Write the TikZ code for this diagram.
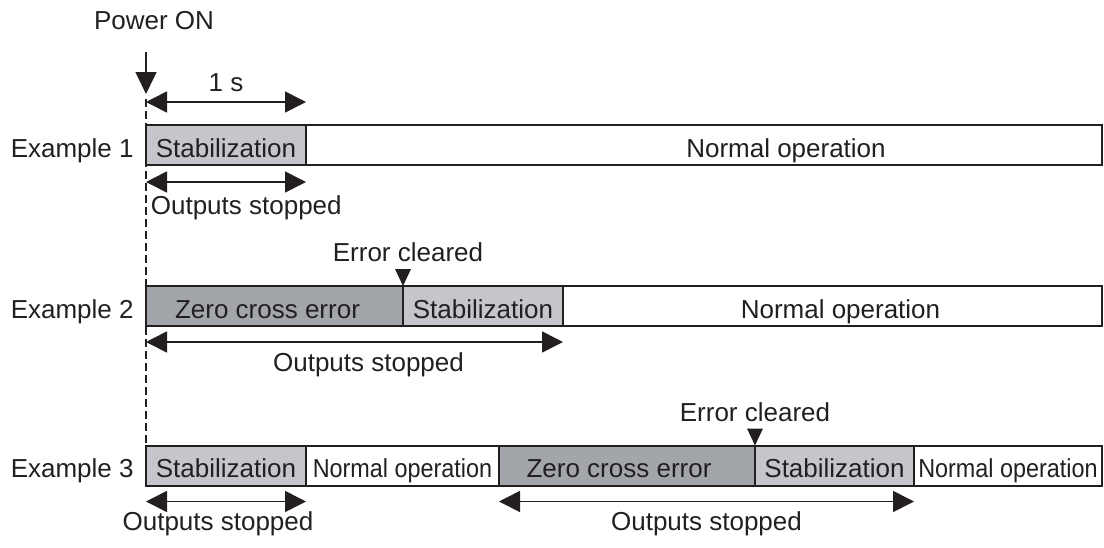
\documentclass[tikz,border=0pt]{standalone}
\usepackage{fontspec}
\setmainfont{Liberation Sans}
\usetikzlibrary{arrows.meta}
\definecolor{ink}{HTML}{231F20}
\definecolor{stabgray}{HTML}{C4C6CB}
\definecolor{errgray}{HTML}{A2A6AA}

\begin{document}
\begin{tikzpicture}[x=0.5pt, y=-0.5pt,
  every node/.style={text=ink, font=\fontsize{13}{15}\selectfont},
  segtext/.style={text height=12pt, text depth=0pt},
  seg/.style={draw=ink, line width=1pt, anchor=west, minimum height=20pt,
    inner sep=0pt, outer sep=0pt, segtext},
  stab/.style={seg, fill=stabgray},
  zerr/.style={seg, fill=errgray},
  norm/.style={seg, fill=white},
  rowlabel/.style={anchor=east, xshift=-6pt, inner sep=0pt, segtext},
  span/.style={draw=ink, line width=0.8pt,
    {Triangle[length=10.5pt,width=10.5pt]}-{Triangle[length=10.5pt,width=10.5pt]}},
  cleared/.style={fill=ink}]
  \useasboundingbox (0,0) rectangle (1104,547);

  % power on
  \node (pwr) at (154,21) {Power ON};
  \coordinate (ontop) at (146,52);
  \coordinate (on) at (146,94);
  \draw[ink, line width=0.8pt, -{Triangle[length=11pt,width=10.5pt]}] (ontop) -- (on);

  % example 1
  \node[stab, minimum width=80pt] (e1s) at (146,145) {Stabilization};
  \node[norm, minimum width=398pt, label={[segtext, xshift=41pt]center:Normal operation}] (e1n) at (e1s.east) {};
  \node[rowlabel] (l1) at (e1s.west) {Example 1};
  \draw[span] ([yshift=11.5pt]e1s.north west) -- ([yshift=11.5pt]e1s.north east)
    node[midway, above=1.5pt] (one) {1 s};
  \draw[span] ([yshift=-8.5pt]e1s.south west) -- ([yshift=-8.5pt]e1s.south east)
    node[pos=0, anchor=north west, xshift=-1.3pt, yshift=-3pt] (o1) {Outputs stopped};

  % example 2
  \node[zerr, minimum width=128.5pt, label={[segtext, xshift=-3.5pt]center:Zero cross error}] (e2z) at (146,306) {};
  \node[stab, minimum width=80pt] (e2s) at (e2z.east) {Stabilization};
  \node[norm, minimum width=269.5pt, label={[segtext, xshift=4pt]center:Normal operation}] (e2n) at (e2s.east) {};
  \node[rowlabel] (l2) at (e2z.west) {Example 2};
  \fill[cleared] (e2z.north east) -- ++(-8,-17) -- ++(16,0) -- cycle;
  \node[above=8.5pt, xshift=2.5pt] (c2) at (e2z.north east) {Error cleared};
  \draw[span] ([yshift=-8pt]e2z.south west) -- ([yshift=-8pt]e2s.south east)
    node[midway, below=1.5pt, xshift=7pt] (o2) {Outputs stopped};

  % example 3
  \node[stab, minimum width=80pt] (e3a) at (146,465.5) {Stabilization};
  \node[norm, minimum width=96.5pt] (e3b) at (e3a.east) {\scalebox{0.9}[1]{Normal operation}};
  \node[zerr, minimum width=128pt, label={[segtext, xshift=-4pt]center:Zero cross error}] (e3c) at (e3b.east) {};
  \node[stab, minimum width=79.5pt] (e3d) at (e3c.east) {Stabilization};
  \node[norm, minimum width=94pt] (e3e) at (e3d.east) {\scalebox{0.9}[1]{Normal operation}};
  \node[rowlabel] (l3) at (e3a.west) {Example 3};
  \fill[cleared] (e3c.north east) -- ++(-8,-17) -- ++(16,0) -- cycle;
  \node[above=8.5pt] (c3) at (e3c.north east) {Error cleared};
  \draw[span] ([yshift=-8pt]e3a.south west) -- ([yshift=-8pt]e3a.south east)
    node[midway, below=1.5pt, xshift=-4pt] (o3) {Outputs stopped};
  \draw[span] ([yshift=-8pt]e3c.south west) -- ([yshift=-8pt]e3d.south east)
    node[midway, below=1.5pt] (o4) {Outputs stopped};

  % dashed time line
  \draw[ink, line width=0.7pt, dash pattern=on 4pt off 2pt] ([yshift=-2.5pt]on) -- (e3a.north west);
\end{tikzpicture}
\end{document}
